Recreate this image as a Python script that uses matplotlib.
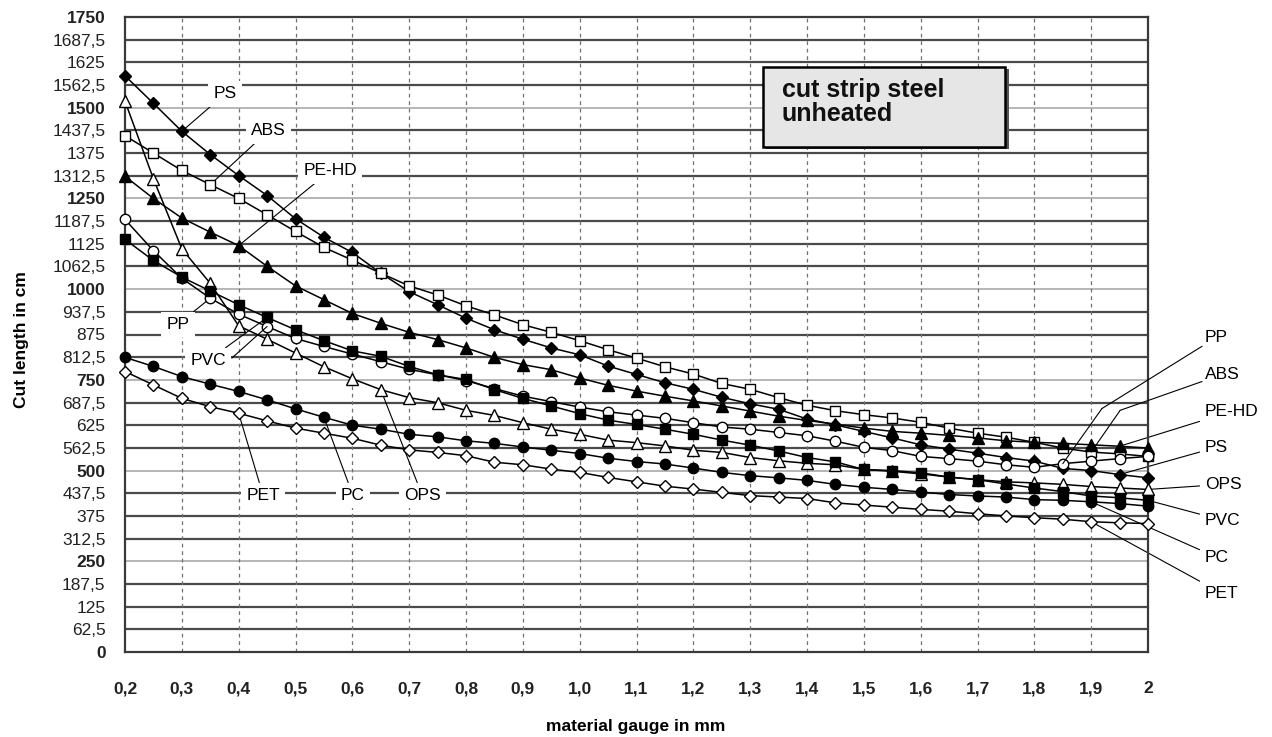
import matplotlib
matplotlib.use("Agg")
import matplotlib.pyplot as plt
from matplotlib.patches import Rectangle

plt.rcParams['font.family'] = ['Liberation Sans', 'DejaVu Sans']

# ---------------- data ----------------
gauge = [0.2, 0.25, 0.3, 0.35, 0.4, 0.45, 0.5, 0.55, 0.6, 0.65, 0.7, 0.75, 0.8,
         0.85, 0.9, 0.95, 1.0, 1.05, 1.1, 1.15, 1.2, 1.25, 1.3, 1.35, 1.4, 1.45,
         1.5, 1.55, 1.6, 1.65, 1.7, 1.75, 1.8, 1.85, 1.9, 1.95, 2.0]

ps = [1588, 1512, 1435, 1371, 1313, 1258, 1194, 1143, 1101, 1044, 993,
      957, 920, 888, 862, 838, 819, 788, 765, 742, 724, 702, 684, 669, 642,
      626, 608, 590, 571, 559, 548, 536, 526, 506, 500, 489, 480]
abs_ = [1423, 1375, 1327, 1288, 1250, 1205, 1159, 1115, 1080, 1044, 1009,
        984, 954, 929, 902, 881, 858, 833, 810, 786, 766, 740, 724, 701, 680,
        665, 654, 645, 633, 617, 603, 592, 578, 562, 551, 546, 539]
pehd = [1311, 1250, 1196, 1157, 1120, 1063, 1009, 971, 933, 906, 881,
        861, 838, 812, 792, 778, 755, 735, 719, 705, 692, 678, 664, 650, 638,
        628, 617, 608, 603, 597, 590, 582, 578, 575, 571, 567, 562]
ops = [1518, 1304, 1111, 1016, 899, 862, 824, 786, 753, 723, 701,
       687, 666, 652, 632, 614, 600, 584, 577, 568, 556, 550, 536, 527, 520,
       516, 503, 498, 491, 482, 475, 469, 466, 462, 456, 452, 448]
pp = [1192, 1106, 1030, 975, 931, 897, 864, 842, 821, 800, 779,
      764, 748, 726, 705, 690, 675, 662, 653, 644, 632, 620, 614, 605, 596,
      581, 564, 555, 539, 533, 526, 516, 509, 519, 526, 533, 539]
pvc = [1137, 1079, 1033, 995, 957, 922, 888, 858, 830, 815, 787,
       764, 751, 723, 699, 678, 657, 639, 627, 614, 600, 584, 570, 554, 536,
       524, 503, 500, 494, 482, 475, 463, 452, 442, 430, 425, 418]
pc = [812, 787, 759, 738, 718, 695, 670, 647, 625, 614, 600,
      593, 582, 575, 565, 556, 547, 534, 525, 518, 507, 495, 486, 480, 473,
      462, 454, 448, 441, 434, 430, 427, 420, 418, 414, 409, 402]
pet = [773, 736, 699, 676, 658, 637, 617, 603, 589, 570, 557,
       550, 541, 523, 516, 504, 495, 481, 469, 457, 449, 440, 431, 427, 423,
       411, 405, 399, 393, 388, 381, 375, 370, 366, 359, 356, 354]

x_ticks = [0.2, 0.3, 0.4, 0.5, 0.6, 0.7, 0.8, 0.9, 1.0, 1.1, 1.2, 1.3, 1.4,
           1.5, 1.6, 1.7, 1.8, 1.9, 2.0]
x_ticklabels = ["0,2", "0,3", "0,4", "0,5", "0,6", "0,7", "0,8", "0,9", "1,0",
                "1,1", "1,2", "1,3", "1,4", "1,5", "1,6", "1,7", "1,8", "1,9", "2"]
y_ticks = [0, 62.5, 125, 187.5, 250, 312.5, 375, 437.5, 500, 562.5, 625, 687.5,
           750, 812.5, 875, 937.5, 1000, 1062.5, 1125, 1187.5, 1250, 1312.5,
           1375, 1437.5, 1500, 1562.5, 1625, 1687.5, 1750]
y_ticklabels = ["0", "62,5", "125", "187,5", "250", "312,5", "375", "437,5",
                "500", "562,5", "625", "687,5", "750", "812,5", "875", "937,5",
                "1000", "1062,5", "1125", "1187,5", "1250", "1312,5", "1375",
                "1437,5", "1500", "1562,5", "1625", "1687,5", "1750"]
bold_levels = [0, 250, 500, 750, 1000, 1250, 1500, 1750]

# ---------------- figure ----------------
fig = plt.figure(figsize=(12.72, 7.37), dpi=100)
ax = fig.add_axes([125 / 1272, 85 / 737, 1023 / 1272, 635 / 737])
ax.set_xlim(0.2, 2.0)
ax.set_ylim(0, 1750)
ax.set_axisbelow(True)

# grid
for yv in y_ticks[1:-1]:
    if yv in bold_levels:
        ax.axhline(yv, color='#b0b0b0', lw=1.3, zorder=0.5)
    else:
        ax.axhline(yv, color='#4a4a4a', lw=1.6, zorder=0.5)
for xv in x_ticks[1:-1]:
    ax.axvline(xv, color='#707070', lw=0.9, ls=(0, (3, 3)), zorder=0.5)

for sp in ax.spines.values():
    sp.set_color('#3a3a3a')
    sp.set_linewidth(1.6)

ax.set_xticks(x_ticks)
ax.set_xticklabels(x_ticklabels, fontsize=12.5, fontweight='bold', color='#222222')
ax.set_yticks(y_ticks)
ax.set_yticklabels(y_ticklabels, fontsize=12.5, color='#222222')
for lab, yv in zip(ax.get_yticklabels(), y_ticks):
    if yv in bold_levels:
        lab.set_fontweight('bold')
ax.tick_params(axis='x', length=0, pad=21)
ax.tick_params(axis='y', length=0, pad=14)

fig.text(636 / 1272, 1 - 727 / 737, "material gauge in mm", fontsize=12.5,
         fontweight='bold', ha='center', va='center')
fig.text(22 / 1272, 1 - 340 / 737, "Cut length in cm", fontsize=12.5,
         fontweight='bold', ha='center', va='center', rotation=90)

# series
styles = [
    ("PS", ps, 'D', 'black', 6.5),
    ("ABS", abs_, 's', 'white', 7.5),
    ("PE-HD", pehd, '^', 'black', 8.0),
    ("OPS", ops, '^', 'white', 8.0),
    ("PP", pp, 'o', 'white', 7.5),
    ("PVC", pvc, 's', 'black', 7.0),
    ("PC", pc, 'o', 'black', 7.5),
    ("PET", pet, 'D', 'white', 6.5),
]
for name, vals, mk, fc, ms in styles:
    ax.plot(gauge, vals, color='black', lw=1.1, marker=mk, ms=ms, mfc=fc,
            mec='black', mew=1.0, zorder=3, clip_on=False)

lead = dict(arrowstyle='-', color='black', lw=0.8, shrinkA=0, shrinkB=0)
box = dict(boxstyle='square,pad=0.3', fc='white', ec='none')
fs = 12.5

def label(txt, vals, i, tx, ty, ha='center'):
    ax.annotate(txt, xy=(gauge[i], vals[i]), xytext=(tx, ty), textcoords='data',
                ha=ha, va='center', fontsize=fs, bbox=box, arrowprops=lead,
                zorder=2.5, annotation_clip=False)

# labels inside the plot
label("PS", ps, 2, 0.376, 1538)
label("ABS", abs_, 3, 0.452, 1436)
label("PE-HD", pehd, 4, 0.561, 1326)
label("PP", pp, 3, 0.293, 903)
label("PVC", pvc, 5, 0.346, 803)
ax.annotate("", xy=(gauge[5], pp[5]), xytext=(0.388, 810), arrowprops=lead)
label("PET", pet, 4, 0.443, 432)
label("PC", pc, 7, 0.601, 432)
label("OPS", ops, 9, 0.723, 432)

# labels on the right
rx = 2.1
ax.annotate("PP", xy=(1.919, 671), xytext=(rx, 867), ha='left', va='center',
            fontsize=fs, arrowprops=lead, annotation_clip=False)
ax.annotate("", xy=(gauge[33], pp[33]), xytext=(1.919, 671), arrowprops=lead,
            annotation_clip=False)
ax.annotate("ABS", xy=(1.951, 666), xytext=(rx, 765), ha='left', va='center',
            fontsize=fs, arrowprops=lead, annotation_clip=False)
ax.annotate("", xy=(gauge[34], abs_[34]), xytext=(1.951, 666), arrowprops=lead,
            annotation_clip=False)
label("PE-HD", pehd, 35, rx, 663, ha='left')
label("PS", ps, 35, rx, 564, ha='left')
label("OPS", ops, 36, rx, 462, ha='left')
label("PVC", pvc, 36, rx, 363, ha='left')
label("PC", pc, 34, rx, 261, ha='left')
label("PET", pet, 34, rx, 162, ha='left')

# title box
ax.add_patch(Rectangle((0.627, 0.792), 0.237, 0.126, transform=ax.transAxes,
                       fc='#555555', ec='none', zorder=3.8))
ax.add_patch(Rectangle((0.6237, 0.795), 0.237, 0.126, transform=ax.transAxes,
                       fc='#e6e6e6', ec='black', lw=1.8, zorder=4))
ax.text(0.642, 0.866, "cut strip steel\nunheated", transform=ax.transAxes,
        ha='left', va='center', fontsize=18, fontweight='bold',
        linespacing=1.0, color='#111111', zorder=5)

fig.savefig("out.png", dpi=100)
